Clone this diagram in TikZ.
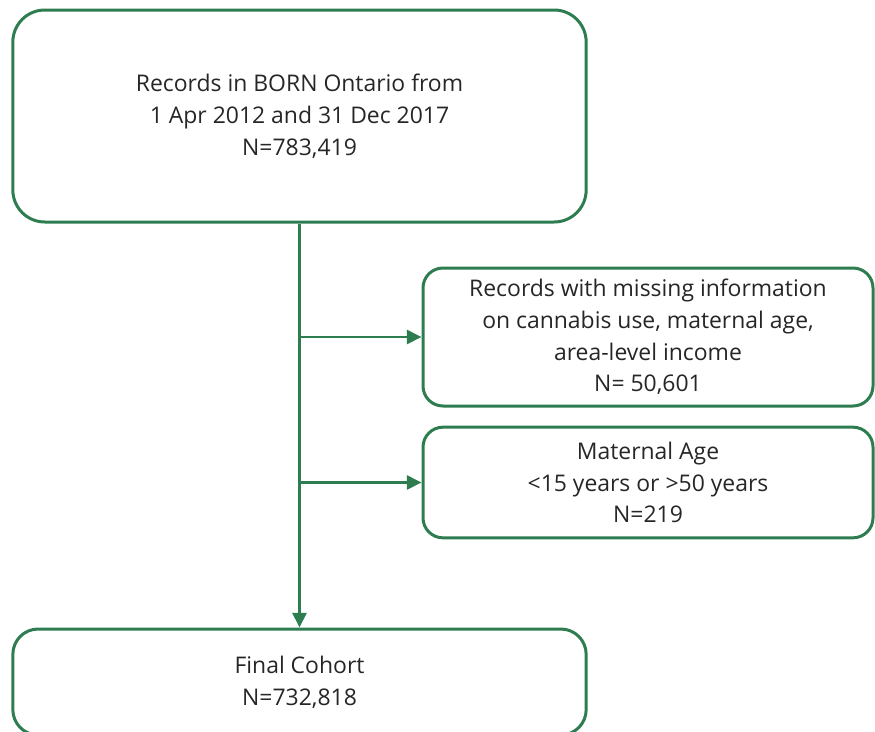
\documentclass[tikz,border=0pt]{standalone}
\usepackage{fontspec}
\setmainfont{Open Sans}
\usetikzlibrary{arrows.meta}
\definecolor{flowgreen}{RGB}{46,125,80}
\definecolor{txt}{RGB}{38,38,38}
\tikzset{
  box/.style={draw=flowgreen, line width=2.25pt, align=center, inner sep=0pt,
    text=txt, font=\fontsize{17.2}{23.8}\selectfont},
  conn/.style={draw=flowgreen, line width=2pt, -{Triangle[length=11pt,width=10.5pt]}}
}
\begin{document}
\begin{tikzpicture}[x=0.75pt,y=-0.75pt]
\useasboundingbox (0,0) rectangle (875,732);
\node[box, rounded corners=24pt, minimum width=430pt, minimum height=159pt] (top) at (299.5,116)
  {Records in BORN Ontario from\\1 Apr 2012 and 31 Dec 2017\\N=783,419};
\node[box, rounded corners=15pt, minimum width=337.5pt, minimum height=103.5pt] (miss) at (648,337)
  {Records with missing information\\on cannabis use, maternal age,\\area-level income\\N= 50,601};
\node[box, rounded corners=15pt, minimum width=337.5pt, minimum height=83pt] (age) at (648,482.5)
  {Maternal Age\\<15 years or >50 years\\N=219};
\node[box, rounded corners=19pt, minimum width=430pt, minimum height=79.5pt] (final) at (299.5,682)
  {Final Cohort\\N=732,818};
\coordinate (j1) at (top.south |- miss.west);
\coordinate (j2) at (top.south |- age.west);
\draw[conn] (top.south) -- (final.north);
\draw[conn] (j1) -- (miss.west);
\draw[conn] (j2) -- (age.west);
\end{tikzpicture}
\end{document}
